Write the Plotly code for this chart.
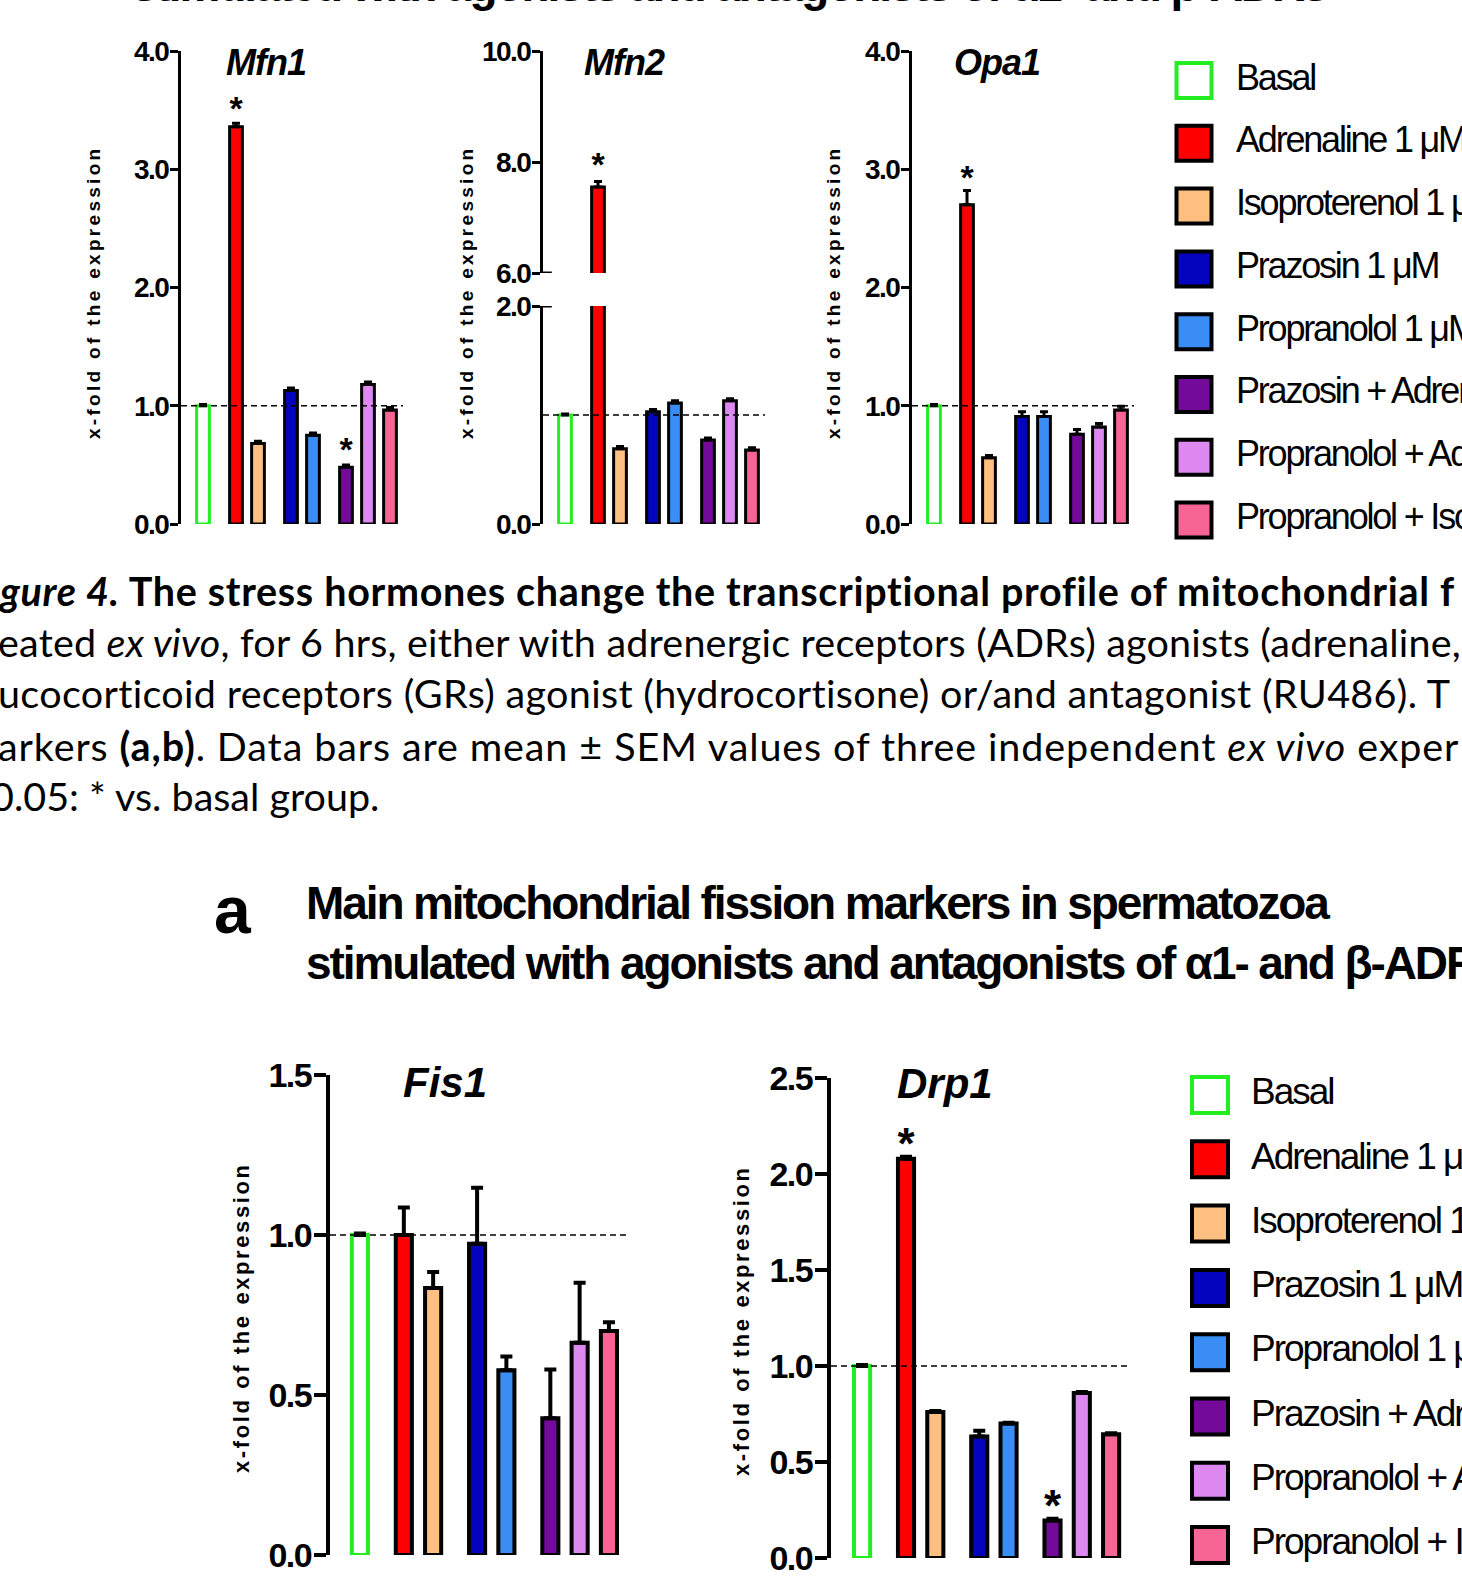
import plotly.graph_objects as go

W, H = 1462, 1578

# ---------------- data ----------------
groups = ["Basal", "Adrenaline 1 μM", "Isoproterenol 1 μM", "Prazosin 1 μM",
          "Propranolol 1 μM", "Prazosin + Adrenaline", "Propranolol + Adrenaline",
          "Propranolol + Isoproterenol"]
group_sizes = [1, 2, 2, 3]          # visual grouping of the bars
fill_colors = ["#FFFFFF", "#FF0000", "#FFBF80", "#0404BE", "#3A8DF5",
               "#730A9A", "#DE88F2", "#F76595"]
edge_colors = ["#22EE22"] + ["#000000"] * 7

mfn1 = [1.00, 3.36, 0.68, 1.13, 0.75, 0.48, 1.18, 0.965]
mfn1_err = [0.01, 0.03, 0.02, 0.02, 0.02, 0.02, 0.02, 0.02]
mfn1_sig = [0, 1, 0, 0, 0, 1, 0, 0]

mfn2 = [1.00, 7.55, 0.69, 1.03, 1.11, 0.77, 1.13, 0.68]
mfn2_err = [0.01, 0.10, 0.02, 0.02, 0.02, 0.02, 0.02, 0.02]
mfn2_sig = [0, 1, 0, 0, 0, 0, 0, 0]

opa1 = [1.00, 2.70, 0.56, 0.91, 0.91, 0.76, 0.82, 0.965]
opa1_err = [0.01, 0.12, 0.02, 0.04, 0.04, 0.04, 0.03, 0.03]
opa1_sig = [0, 1, 0, 0, 0, 0, 0, 0]

fis1 = [1.00, 1.00, 0.834, 0.973, 0.577, 0.427, 0.663, 0.70]
fis1_err = [0.005, 0.086, 0.05, 0.175, 0.043, 0.153, 0.188, 0.027]
fis1_sig = [0, 0, 0, 0, 0, 0, 0, 0]

drp1 = [1.00, 2.08, 0.76, 0.633, 0.70, 0.195, 0.86, 0.645]
drp1_err = [0.005, 0.01, 0.005, 0.03, 0.005, 0.01, 0.005, 0.005]
drp1_sig = [0, 1, 0, 0, 0, 1, 0, 0]

mfn1_ticks = [0, 1, 2, 3, 4]
mfn2_low_ticks = [0, 2]
mfn2_up_ticks = [6, 8, 10]
opa1_ticks = [0, 1, 2, 3, 4]
fis1_ticks = [0, 0.5, 1.0, 1.5]
drp1_ticks = [0, 0.5, 1.0, 1.5, 2.0, 2.5]

ylabel = "x-fold of the expression"
top_title = "stimulated with agonists and antagonists of α1- and β-ADRs"
fission_title = ["Main mitochondrial fission markers in spermatozoa",
                 "stimulated with agonists and antagonists of α1- and β-ADRs"]
caption = [
    "<b><i>gure 4.</i> The stress hormones change the transcriptional profile of mitochondrial f</b>",
    "eated <i>ex vivo</i>, for 6 hrs, either with adrenergic receptors (ADRs) agonists (adrenaline,",
    "ucocorticoid receptors (GRs) agonist (hydrocortisone) or/and antagonist (RU486). T",
    "arkers <b>(a,b)</b>. Data bars are mean ± SEM values of three independent <i>ex vivo</i> exper",
    "0.05: * vs. basal group.",
]

# ---------------- helpers ----------------
ARIAL = "Liberation Sans, Arial, sans-serif"
CAPF = "Lato, Carlito, Calibri, sans-serif"


def ls(text, px):
    return '<span style="letter-spacing:%spx">%s</span>' % (px, text)


pos = []
p = 0.0
for n in group_sizes:
    for k in range(n):
        pos.append(p)
        p += 1.0
    p += 0.5

def fx(px):
    return px / W

def fy(py):
    return 1 - py / H

fig = go.Figure()
layout = dict(width=W, height=H, template="none",
              margin=dict(l=0, r=0, t=0, b=0, pad=0, autoexpand=False),
              paper_bgcolor="white", plot_bgcolor="rgba(0,0,0,0)",
              showlegend=False, bargap=0)
annotations = []
shapes = []
geom = {}


def add_axes(n, x0, unit, lu, ru, ytop, ybot, yr, ticks, tfs, tls, lw, tlen):
    x1 = x0 + (lu + ru) * unit
    geom[n] = (ybot - ytop) / (yr[1] - yr[0])
    layout["xaxis%d" % n] = dict(domain=[fx(x0), fx(x1)], range=[-lu, ru],
                                 visible=False, anchor="y%d" % n, fixedrange=True,
                                 automargin=False)
    layout["yaxis%d" % n] = dict(domain=[fy(ybot), fy(ytop)], range=yr,
                                 anchor="x%d" % n, showline=True, linecolor="black",
                                 linewidth=lw, ticks="outside", ticklen=tlen,
                                 tickwidth=lw, tickcolor="black", tickvals=ticks,
                                 ticktext=[ls("%.1f" % t, tls) for t in ticks],
                                 ticklabelstandoff=-4,
                                 tickfont=dict(family=ARIAL, size=tfs, color="black",
                                               weight="bold"),
                                 showgrid=False, zeroline=False, fixedrange=True,
                                 automargin=False)
    return -lu, ru


def add_bars(n, vals, err, bw, lw, ew, et):
    fig.add_trace(go.Bar(x=pos, y=vals, width=bw,
                         marker=dict(color=fill_colors,
                                     line=dict(color=edge_colors, width=lw)),
                         error_y=dict(type="data", symmetric=False, array=err,
                                      arrayminus=[0] * len(err), color="black",
                                      thickness=et, width=ew),
                         xaxis="x%d" % n, yaxis="y%d" % n, hoverinfo="skip"))


def add_stars(n, vals, err, sig, size, gap_px):
    off = gap_px / geom[n]
    xs = [pos[i] for i in range(len(vals)) if sig[i]]
    ys = [vals[i] + err[i] + off for i in range(len(vals)) if sig[i]]
    if xs:
        fig.add_trace(go.Scatter(x=xs, y=ys, mode="text", text=["<b>*</b>"] * len(xs),
                                 textposition="middle center", cliponaxis=False,
                                 textfont=dict(family=ARIAL, size=size, color="black"),
                                 xaxis="x%d" % n, yaxis="y%d" % n, hoverinfo="skip"))


def dashed(n, xr):
    shapes.append(dict(type="line", xref="x%d" % n, yref="y%d" % n,
                       x0=xr[0], x1=xr[1], y0=1, y1=1,
                       line=dict(color="black", width=1.7, dash="6px,4px")))


def text_ann(x, y, text, size, family, weight="normal", xanchor="center",
             yanchor="middle", angle=0, italic=False):
    annotations.append(dict(xref="paper", yref="paper", x=fx(x), y=fy(y), text=text,
                            showarrow=False, xanchor=xanchor, yanchor=yanchor,
                            textangle=angle, borderpad=0,
                            font=dict(family=family, size=size, color="black",
                                      weight=weight,
                                      style="italic" if italic else "normal")))


# ---------------- top row: Mfn1, Mfn2 (broken), Opa1 ----------------
TOP_T, TOP_B = 51, 524
xr = add_axes(1, 181, 22, 1.0, 9.1, TOP_T, TOP_B, [0, 4], mfn1_ticks, 28, -1.5, 3, 8)
add_bars(1, mfn1, mfn1_err, 0.58, 3, 4, 3)
add_stars(1, mfn1, mfn1_err, mfn1_sig, 34, 12)
dashed(1, xr)

xr = add_axes(2, 543, 22, 1.0, 9.1, 306, TOP_B, [0, 2], mfn2_low_ticks, 28, -1.5, 3, 8)
add_axes(3, 543, 22, 1.0, 9.1, TOP_T, 273, [6, 10], mfn2_up_ticks, 28, -1.5, 3, 8)
add_bars(2, mfn2, mfn2_err, 0.58, 3, 4, 3)
add_bars(3, mfn2, mfn2_err, 0.58, 3, 4, 3)
add_stars(3, mfn2, mfn2_err, mfn2_sig, 34, 14)
dashed(2, xr)
# break marks (inner half of the ticks at the break)
shapes.append(dict(type="line", xref="x3", yref="y3", x0=-1.0, x1=-0.6, y0=6, y1=6,
                   line=dict(color="black", width=3)))
shapes.append(dict(type="line", xref="x2", yref="y2", x0=-1.0, x1=-0.6, y0=2, y1=2,
                   line=dict(color="black", width=3)))

xr = add_axes(4, 912, 22, 1.0, 9.1, TOP_T, TOP_B, [0, 4], opa1_ticks, 28, -1.5, 3, 8)
add_bars(4, opa1, opa1_err, 0.58, 3, 4, 3)
add_stars(4, opa1, opa1_err, opa1_sig, 34, 10)
dashed(4, xr)

for cx, name in [(266, "Mfn1"), (624, "Mfn2"), (997, "Opa1")]:
    text_ann(cx, 62, ls(name, -1), 36, ARIAL, "bold", italic=True)

ylab_top = ls("<b>%s</b>" % ylabel, 3.3)
for cx in [93, 466, 833]:
    text_ann(cx, 292, ylab_top, 19, ARIAL, "bold", angle=-90)

# ---------------- bottom row: Fis1, Drp1 ----------------
xr = add_axes(5, 330, 29.3, 1.02, 9.15, 1075, 1555, [0, 1.5], fis1_ticks, 34, -1.5, 4, 12)
add_bars(5, fis1, fis1_err, 0.55, 4, 6, 4)
add_stars(5, fis1, fis1_err, fis1_sig, 44, 9)
dashed(5, xr)

xr = add_axes(6, 831, 29.3, 1.06, 9.15, 1078, 1558, [0, 2.5], drp1_ticks, 34, -1.5, 4, 12)
add_bars(6, drp1, drp1_err, 0.55, 4, 6, 4)
add_stars(6, drp1, drp1_err, drp1_sig, 44, 9)
dashed(6, xr)

text_ann(445, 1082, "Fis1", 42, ARIAL, "bold", italic=True)
text_ann(945, 1083, "Drp1", 42, ARIAL, "bold", italic=True)

ylab_bot = ls("<b>%s</b>" % ylabel, 2.6)
text_ann(241, 1318, ylab_bot, 22, ARIAL, "bold", angle=-90)
text_ann(741, 1321, ylab_bot, 22, ARIAL, "bold", angle=-90)

# ---------------- legends ----------------
def add_legend(n, x0, y_first, step, msize, tsize, tls, text_dx):
    layout["xaxis%d" % n] = dict(domain=[fx(x0), 1], range=[0, W - x0], visible=False,
                                 anchor="y%d" % n, fixedrange=True, automargin=False)
    layout["yaxis%d" % n] = dict(domain=[fy(y_first + 7.5 * step), fy(y_first - 0.5 * step)],
                                 range=[7.5, -0.5], visible=False, anchor="x%d" % n,
                                 fixedrange=True, automargin=False)
    idx = list(range(len(groups)))
    fig.add_trace(go.Scatter(x=[20] * len(groups), y=idx, mode="markers",
                             marker=dict(symbol="square", size=msize, color=fill_colors,
                                         line=dict(color=edge_colors, width=4)),
                             cliponaxis=False, xaxis="x%d" % n, yaxis="y%d" % n,
                             hoverinfo="skip"))
    fig.add_trace(go.Scatter(x=[text_dx] * len(groups), y=idx, mode="text",
                             text=[ls(g, tls) for g in groups],
                             textposition="middle right", cliponaxis=False,
                             textfont=dict(family=ARIAL, size=tsize, color="black"),
                             xaxis="x%d" % n, yaxis="y%d" % n, hoverinfo="skip"))

add_legend(7, 1174, 80.5, 62.8, 35, 36, -2.2, 62)
add_legend(8, 1190, 1095, 64.3, 36, 37, -2.0, 61)

# ---------------- texts ----------------
text_ann(131, 12, ls(top_title, -2.1), 46, ARIAL, "bold", xanchor="left", yanchor="bottom")
text_ann(233, 910, "a", 66, ARIAL, "bold")
text_ann(305, 903, ls(fission_title[0], -2.1), 46, ARIAL, "bold", xanchor="left")
text_ann(305, 963, ls(fission_title[1], -2.1), 46, ARIAL, "bold", xanchor="left")

cap_y = [591, 641, 692, 745, 796]
cap_x = [-3, -3, -3, -3, -10]
cap_ls = [0.68, 0.2, 0.33, 0.9, 0]
for t, yy, xx, sp in zip(caption, cap_y, cap_x, cap_ls):
    text_ann(xx, yy, ls(t, sp), 39.5, CAPF, "normal", xanchor="left")

layout["annotations"] = annotations
layout["shapes"] = shapes
fig.update_layout(**layout)
fig.write_html("out.html", config={"displayModeBar": False, "staticPlot": True},
               post_script="document.body.style.margin='0px';")
